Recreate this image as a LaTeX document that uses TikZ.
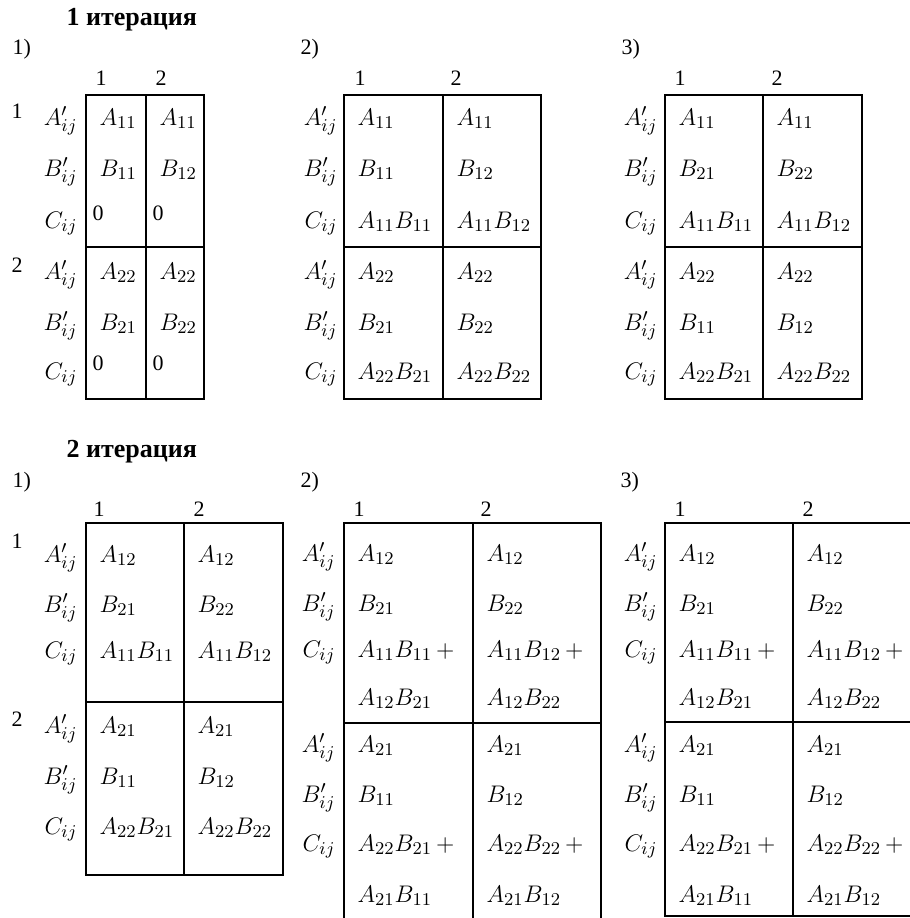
\documentclass[tikz,border=0pt]{standalone}
\usepackage{fontspec}
\setmainfont{Liberation Serif}
\usetikzlibrary{positioning}

\begin{document}
\begin{tikzpicture}[x=0.5pt, y=-0.5pt, line width=0.6pt,
    every node/.style={inner sep=0pt, font=\fontsize{13}{15}\selectfont},
    title/.style={anchor=base west, font=\fontsize{13}{15}\selectfont\bfseries},
    num/.style={anchor=base west, font=\fontsize{11}{13}\selectfont},
    lbl/.style={anchor=base east},
    cell/.style={anchor=base west}]
\useasboundingbox (0,0) rectangle (910,918);

% ---- 1 iteration ----
\node[title] (t1) at (66,25) {1 итерация};
\node[num] (p1a) at (12,54) {1)};
\node[num] (p1b) at (300,54) {2)};
\node[num] (p1c) at (621,54) {3)};
\foreach \hx/\hn [count=\k] in {95/1,155/2,354/1,450/2,674/1,771/2}
    \node[num] (h1\k) at (\hx,85) {\hn};
\node[num] (n11) at (11,118) {1};
\node[num] (n12) at (11,272) {2};
\foreach \px/\pn in {78/a,338/b,658/c}
    \foreach \py/\pt [count=\k] in {125/A'_{ij},176/B'_{ij},228/C_{ij},279/A'_{ij},330/B'_{ij},379/C_{ij}}
        \node[lbl] (r1\pn\k) at (\px,\py) {$\pt$};

% boxes
\draw (86,95) rectangle (204,399) (146,95) -- (146,399) (86,247) -- (204,247);
\draw (344,95) rectangle (541,399) (443,95) -- (443,399) (344,247) -- (541,247);
\draw (665,95) rectangle (862,399) (763,95) -- (763,399) (665,247) -- (862,247);

% panel 1
\node[cell] (c1a1) at (99,125) {$A_{11}$};
\node[cell] (c1a2) at (159,125) {$A_{11}$};
\node[cell] (c1a3) at (99,176) {$B_{11}$};
\node[cell] (c1a4) at (159,176) {$B_{12}$};
\node[cell,font=\fontsize{11}{13}\selectfont] (c1a5) at (92,220) {0};
\node[cell,font=\fontsize{11}{13}\selectfont] (c1a6) at (152,220) {0};
\node[cell] (c1a7) at (99,279) {$A_{22}$};
\node[cell] (c1a8) at (159,279) {$A_{22}$};
\node[cell] (c1a9) at (99,330) {$B_{21}$};
\node[cell] (c1a10) at (159,330) {$B_{22}$};
\node[cell,font=\fontsize{11}{13}\selectfont] (c1a11) at (92,370) {0};
\node[cell,font=\fontsize{11}{13}\selectfont] (c1a12) at (152,370) {0};

% panel 2
\node[cell] (c1b1) at (357,125) {$A_{11}$};
\node[cell] (c1b2) at (456,125) {$A_{11}$};
\node[cell] (c1b3) at (357,176) {$B_{11}$};
\node[cell] (c1b4) at (456,176) {$B_{12}$};
\node[cell] (c1b5) at (357,228) {$A_{11}B_{11}$};
\node[cell] (c1b6) at (456,228) {$A_{11}B_{12}$};
\node[cell] (c1b7) at (357,279) {$A_{22}$};
\node[cell] (c1b8) at (456,279) {$A_{22}$};
\node[cell] (c1b9) at (357,330) {$B_{21}$};
\node[cell] (c1b10) at (456,330) {$B_{22}$};
\node[cell] (c1b11) at (357,379) {$A_{22}B_{21}$};
\node[cell] (c1b12) at (456,379) {$A_{22}B_{22}$};

% panel 3
\node[cell] (c1c1) at (678,125) {$A_{11}$};
\node[cell] (c1c2) at (776,125) {$A_{11}$};
\node[cell] (c1c3) at (678,176) {$B_{21}$};
\node[cell] (c1c4) at (776,176) {$B_{22}$};
\node[cell] (c1c5) at (678,228) {$A_{11}B_{11}$};
\node[cell] (c1c6) at (776,228) {$A_{11}B_{12}$};
\node[cell] (c1c7) at (678,279) {$A_{22}$};
\node[cell] (c1c8) at (776,279) {$A_{22}$};
\node[cell] (c1c9) at (678,330) {$B_{11}$};
\node[cell] (c1c10) at (776,330) {$B_{12}$};
\node[cell] (c1c11) at (678,379) {$A_{22}B_{21}$};
\node[cell] (c1c12) at (776,379) {$A_{22}B_{22}$};

% ---- 2 iteration ----
\node[title] (t2) at (66,457) {2 итерация};
\node[num] (p2a) at (12,487) {1)};
\node[num] (p2b) at (300,487) {2)};
\node[num] (p2c) at (620,487) {3)};
\foreach \hx/\hn [count=\k] in {93/1,193/2,353/1,480/2,674/1,802/2}
    \node[num] (h2\k) at (\hx,516) {\hn};
\node[num] (n21) at (11,548) {1};
\node[num] (n22) at (11,726) {2};
\foreach \py/\pt [count=\k] in {562/A'_{ij},612/B'_{ij},658/C_{ij},733/A'_{ij},784/B'_{ij},834/C_{ij}}
    \node[lbl] (r2a\k) at (78,\py) {$\pt$};
\foreach \px/\pn in {336/b,658/c}
    \foreach \py/\pt [count=\k] in {561/A'_{ij},611/B'_{ij},657/C_{ij},752/A'_{ij},802/B'_{ij},851/C_{ij}}
        \node[lbl] (r2\pn\k) at (\px,\py) {$\pt$};

% boxes
\draw (86,523) rectangle (283,875) (184,523) -- (184,875) (86,702) -- (283,702);
\draw (344,918) -- (344,523) -- (601,523) -- (601,918) (473,523) -- (473,918) (344,723) -- (601,723);
\draw (910,523) -- (665,523) -- (665,916) -- (910,916) (793,523) -- (793,916) (665,722) -- (910,722);

% panel 1
\node[cell] (c2a1) at (99,562) {$A_{12}$};
\node[cell] (c2a2) at (197,562) {$A_{12}$};
\node[cell] (c2a3) at (99,612) {$B_{21}$};
\node[cell] (c2a4) at (197,612) {$B_{22}$};
\node[cell] (c2a5) at (99,658) {$A_{11}B_{11}$};
\node[cell] (c2a6) at (197,658) {$A_{11}B_{12}$};
\node[cell] (c2a7) at (99,733) {$A_{21}$};
\node[cell] (c2a8) at (197,733) {$A_{21}$};
\node[cell] (c2a9) at (99,784) {$B_{11}$};
\node[cell] (c2a10) at (197,784) {$B_{12}$};
\node[cell] (c2a11) at (99,834) {$A_{22}B_{21}$};
\node[cell] (c2a12) at (197,834) {$A_{22}B_{22}$};

% panels 2 and 3 hold the same values
\foreach \ca/\cb/\pn in {357/486/b,678/806/c} {
    \node[cell] (c2\pn1) at (\ca,561) {$A_{12}$};
    \node[cell] (c2\pn2) at (\cb,561) {$A_{12}$};
    \node[cell] (c2\pn3) at (\ca,611) {$B_{21}$};
    \node[cell] (c2\pn4) at (\cb,611) {$B_{22}$};
    \node[cell] (c2\pn5) at (\ca,657) {$A_{11}B_{11}\,+$};
    \node[cell] (c2\pn6) at (\cb,657) {$A_{11}B_{12}\,+$};
    \node[cell] (c2\pn7) at (\ca,705) {$A_{12}B_{21}$};
    \node[cell] (c2\pn8) at (\cb,705) {$A_{12}B_{22}$};
    \node[cell] (c2\pn9) at (\ca,752) {$A_{21}$};
    \node[cell] (c2\pn10) at (\cb,752) {$A_{21}$};
    \node[cell] (c2\pn11) at (\ca,802) {$B_{11}$};
    \node[cell] (c2\pn12) at (\cb,802) {$B_{12}$};
    \node[cell] (c2\pn13) at (\ca,851) {$A_{22}B_{21}\,+$};
    \node[cell] (c2\pn14) at (\cb,851) {$A_{22}B_{22}\,+$};
    \node[cell] (c2\pn15) at (\ca,902) {$A_{21}B_{11}$};
    \node[cell] (c2\pn16) at (\cb,902) {$A_{21}B_{12}$};
}
\end{tikzpicture}
\end{document}
